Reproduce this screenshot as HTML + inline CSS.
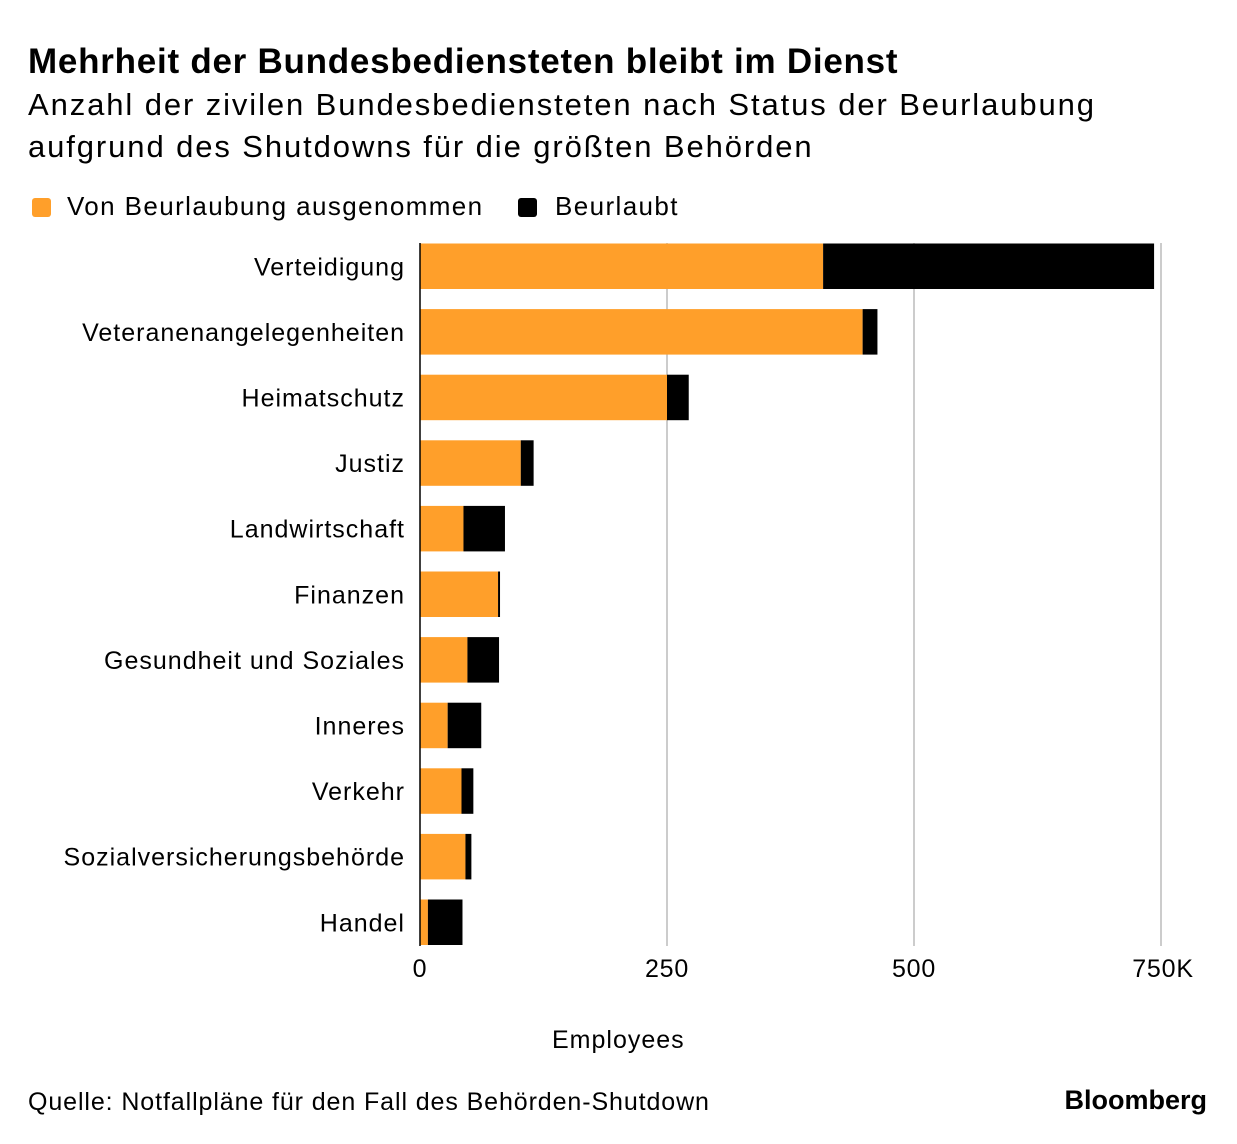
<!DOCTYPE html>
<html><head><meta charset="utf-8">
<style>
body{margin:0;background:#fff;font-family:"Liberation Sans",sans-serif;color:#000}
#wrap{position:relative;width:1237px;height:1144px;overflow:hidden}
.t{position:absolute;white-space:nowrap}
</style></head>
<body>
<div id="wrap">
<div class="t" style="left:28px;top:42px;font-size:35px;font-weight:bold;letter-spacing:0.75px">Mehrheit der Bundesbediensteten bleibt im Dienst</div>
<div class="t" style="left:28px;top:84px;font-size:31px;line-height:42px;letter-spacing:1.9px">Anzahl der zivilen Bundesbediensteten nach Status der Beurlaubung<br>aufgrund des Shutdowns für die größten Behörden</div>
<div class="t" style="left:32px;top:191px;font-size:26px;letter-spacing:1.4px"><span style="display:inline-block;width:19px;height:19px;background:#FF9F2A;border-radius:3px;vertical-align:-2px;margin-right:16px"></span>Von Beurlaubung ausgenommen</div>
<div class="t" style="left:518px;top:191px;font-size:26px;letter-spacing:1.4px"><span style="display:inline-block;width:19px;height:19px;background:#000;border-radius:3px;vertical-align:-2px;margin-right:18px"></span>Beurlaubt</div>
<svg id="svg" width="1237" height="1144" style="position:absolute;left:0;top:0"></svg>
<div class="t" style="left:552px;top:1026px;font-size:25px;letter-spacing:1px">Employees</div>
<div class="t" style="left:28px;top:1088px;font-size:25px;letter-spacing:0.9px">Quelle: Notfallpläne für den Fall des Behörden-Shutdown</div>
<div class="t" style="right:30px;top:1085px;font-size:27px;font-weight:bold">Bloomberg</div>
</div>
<script>
const categories=["Verteidigung","Veteranenangelegenheiten","Heimatschutz","Justiz","Landwirtschaft","Finanzen","Gesundheit und Soziales","Inneres","Verkehr","Sozialversicherungsbehörde","Handel"];
const exempt=[408,448,250,102,44,79,48,28,42,46,8];
const furloughed=[335,15,22,13,42,2,32,34,12,6,35];
const tickValues=[0,250,500,750];
const tickLabels=["0","250","500","750K"];
const NS="http://www.w3.org/2000/svg",svg=document.getElementById('svg');
const x=v=>420+v*(741/750);
const rowY=i=>243.5+i*65.6, bh=45.5;
function mk(tag,at){const e=document.createElementNS(NS,tag);for(const k in at)e.setAttribute(k,at[k]);svg.appendChild(e);return e;}
tickValues.forEach((v,i)=>{
 if(v>0){const g=mk('line',{x1:x(v),x2:x(v),y1:243,y2:946,stroke:'#ccc','stroke-width':2});
 
 }
 const t=mk('text',{x:x(v)+(i==3?2:0),y:977,'font-size':25,'letter-spacing':'0.8','text-anchor':'middle','font-family':'Liberation Sans, sans-serif'});
 t.textContent=tickLabels[i];
 
 
});
categories.forEach((c,i)=>{
 const y=rowY(i);
 const a=mk('rect',{x:x(0),y:y,width:x(exempt[i])-x(0),height:bh,fill:'#FF9F2A'});
 
 
 const b=mk('rect',{x:x(exempt[i]),y:y,width:x(exempt[i]+furloughed[i])-x(exempt[i]),height:bh,fill:'#000'});
 
 
 const t=mk('text',{x:405,y:y+bh/2+9,'font-size':25,'letter-spacing':'1','text-anchor':'end','font-family':'Liberation Sans, sans-serif'});
 t.textContent=c;
 
 
});
const ax=mk('line',{x1:420,x2:420,y1:243,y2:946,stroke:'#000','stroke-width':1.5});


</script>
</body></html>
